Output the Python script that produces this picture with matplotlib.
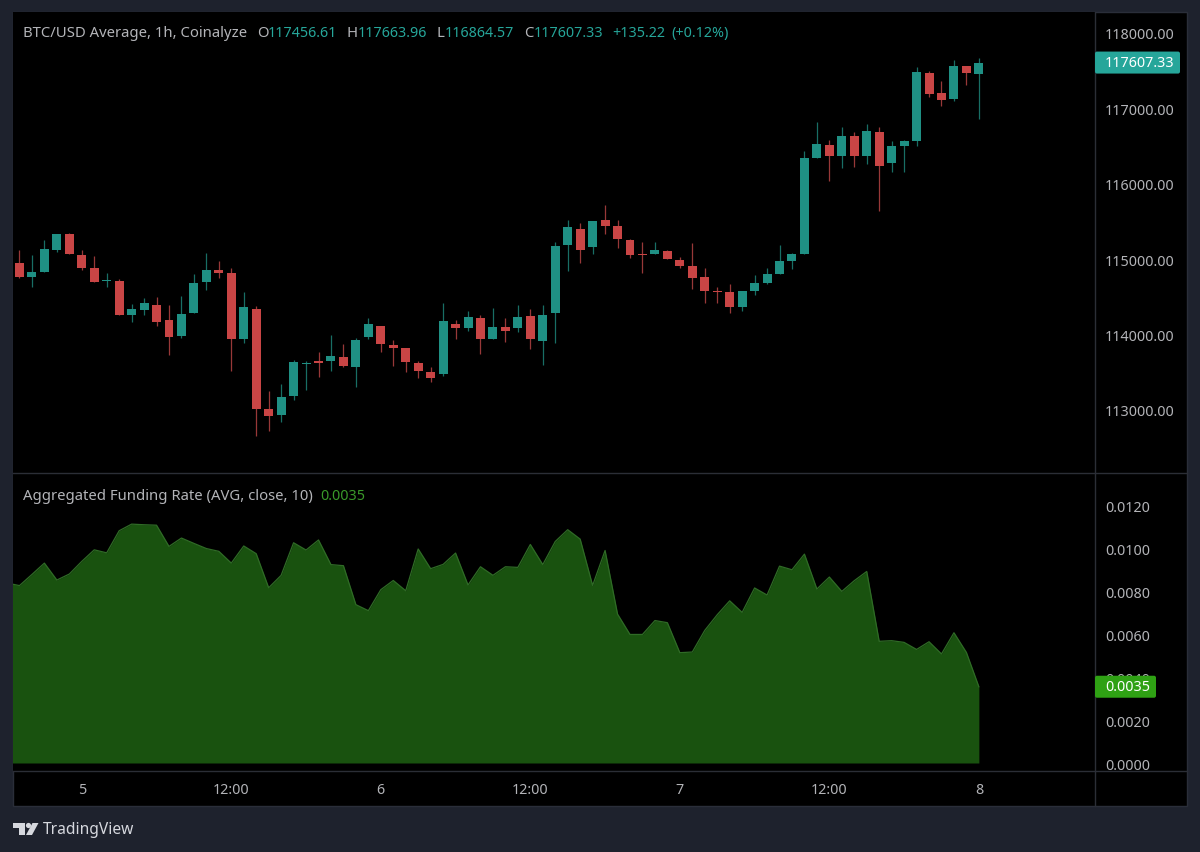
import matplotlib
matplotlib.use("Agg")
import matplotlib.pyplot as plt
import numpy as np
from matplotlib.patches import FancyBboxPatch, Rectangle, Polygon, Circle

# Hourly candles
opens = [114949, 114764, 114830, 115126, 115334, 115060, 114887, 114715, 114715, 114264,
         114331, 114397, 114189, 113981, 114291, 114702, 114852, 114817, 113937, 114344,
         113018, 112934, 113190, 113610, 113650, 113645, 113707, 113566, 113964, 114110,
         113862, 113818, 113624, 113509, 113482, 114145, 114092, 114225, 113942, 114097,
         114083, 114243, 113920, 114291, 115184, 115405, 115166, 115516, 115436, 115259,
         115065, 115074, 115104, 114994, 114914, 114769, 114574, 114561, 114366, 114583,
         114685, 114808, 114976, 115074, 116346, 116510, 116373, 116629, 116373, 116682,
         116271, 116501, 116572, 117469, 117204, 117124, 117558, 117456.61]
highs = [115126, 115055, 115259, 115334, 115347, 115122, 115047, 114817, 114737, 114410,
         114490, 114499, 114397, 114512, 114799, 115082, 114976, 114883, 114569, 114375,
         113248, 113345, 113659, 113645, 113774, 113995, 113871, 113950, 114216, 114118,
         113928, 113818, 113650, 113571, 114419, 114198, 114309, 114260, 114353, 114220,
         114397, 114340, 114388, 115224, 115524, 115480, 115511, 115719, 115524, 115268,
         115224, 115224, 115127, 115025, 115211, 114879, 114627, 114667, 114578, 114791,
         114888, 115193, 115082, 116435, 116824, 116585, 116753, 116682, 116797, 116749,
         116567, 116581, 117544, 117500, 117359, 117642, 117558, 117663.96]
lows = [114746, 114636, 114830, 115100, 115073, 114852, 114702, 114636, 114255, 114171,
        114255, 114110, 113734, 113950, 114291, 114591, 114755, 113522, 113889, 112660,
        112722, 112845, 113128, 113270, 113438, 113522, 113575, 113305, 113937, 113765,
        113588, 113509, 113420, 113376, 113456, 113946, 114044, 113748, 113942, 113907,
        114039, 113814, 113593, 113885, 114848, 114954, 115074, 115330, 115144, 115016,
        114817, 115065, 115000, 114883, 114609, 114424, 114419, 114282, 114318, 114530,
        114676, 114808, 114870, 115074, 116346, 116041, 116205, 116218, 116258, 115639,
        116152, 116152, 116497, 117155, 117036, 117098, 117314, 116864.57]
closes = [114764, 114834, 115131, 115334, 115073, 114883, 114702, 114724, 114255, 114339,
          114415, 114171, 113973, 114278, 114689, 114852, 114821, 113937, 114370, 113009,
          112916, 113168, 113637, 113623, 113628, 113716, 113588, 113924, 114136, 113875,
          113827, 113637, 113518, 113425, 114181, 114083, 114229, 113938, 114097, 114052,
          114229, 113938, 114260, 115180, 115423, 115118, 115507, 115436, 115264, 115056,
          115051, 115118, 115003, 114910, 114755, 114574, 114561, 114362, 114578, 114680,
          114804, 114976, 115069, 116346, 116532, 116364, 116629, 116364, 116700, 116240,
          116497, 116567, 117478, 117191, 117107, 117566, 117474, 117607.33]

# Funding rate, first point sits one hour before the first candle (clipped by the pane)
funding = [0.00840, 0.00828, 0.00880, 0.00933, 0.00854, 0.00882, 0.00941, 0.00995, 0.00981, 0.01084,
           0.01115, 0.01112, 0.01110, 0.01011, 0.01050, 0.01025, 0.01001, 0.00988, 0.00933, 0.01013,
           0.00977, 0.00818, 0.00876, 0.01028, 0.00994, 0.01041, 0.00926, 0.00921, 0.00739, 0.00711,
           0.00809, 0.00852, 0.00804, 0.00999, 0.00907, 0.00927, 0.00980, 0.00831, 0.00916, 0.00876,
           0.00916, 0.00913, 0.01020, 0.00926, 0.01034, 0.01089, 0.01045, 0.00829, 0.00992, 0.00695,
           0.00600, 0.00600, 0.00665, 0.00655, 0.00515, 0.00518, 0.00619, 0.00692, 0.00757, 0.00703,
           0.00817, 0.00784, 0.00919, 0.00902, 0.00975, 0.00812, 0.00868, 0.00801, 0.00851, 0.00894,
           0.00568, 0.00571, 0.00563, 0.00530, 0.00566, 0.00509, 0.00608, 0.00516, 0.00356]

time_labels = ["5", "12:00", "6", "12:00", "7", "12:00", "8"]
time_hours = [5, 17, 29, 41, 53, 65, 77]
price_ticks = [113000, 114000, 115000, 116000, 117000, 118000]
funding_ticks = [0.0, 0.002, 0.004, 0.006, 0.008, 0.010, 0.012]
last_funding_label = "0.0035"

W, H = 1200, 853
BG = "#1e222d"
LINE = "#2b2e36"
TEXT = "#b3b4b8"
TEAL = "#1f9084"
TEAL_TEXT = "#26a69a"
RED = "#c94545"
FONT = "Noto Sans"
FS = 10.3
FS_LABEL = 10.7

plt.rcParams["font.family"] = [FONT, "DejaVu Sans"]


def pane(left, top, right, bottom):
    return [left / W, 1 - bottom / H, (right - left) / W, (bottom - top) / H]


fig = plt.figure(figsize=(W / 100, H / 100), dpi=100, facecolor=BG)
fig.add_artist(Rectangle((13 / W, 1 - 807 / H), 1174 / W, 794 / H, transform=fig.transFigure,
                         facecolor="black", edgecolor="#2a2e39", linewidth=1, zorder=-1))

ax = fig.add_axes(pane(13, 13, 1095, 474), facecolor="black")
ax2 = fig.add_axes(pane(13, 474, 1095, 772), facecolor="black", sharex=ax)

# Candles
hours = np.arange(len(closes))
opens, highs, lows, closes = map(np.array, (opens, highs, lows, closes))
up = closes >= opens
colors = np.where(up, TEAL, RED)
wick_colors = np.where(up, "#186e65", "#983838")
ax.vlines(hours, lows, highs, colors=wick_colors, linewidth=0.9, zorder=2)
ax.bar(hours, np.abs(closes - opens), bottom=np.minimum(opens, closes), width=0.72,
       color=colors, linewidth=0, zorder=3)

ax.set_xlim(-0.52, 86.32)
ax.set_ylim(112164, 118278)
ax.set_yticks(price_ticks)
ax.set_yticklabels([f"{p:.2f}" for p in price_ticks])

# Funding area
funding_hours = np.arange(-1, len(closes))
ax2.fill_between(funding_hours, 0, funding, color="#19520f", linewidth=0, zorder=2)
ax2.plot(funding_hours, funding, color="#2f6b26", linewidth=0.9, zorder=3)
ax2.set_ylim(-0.000373, 0.013536)
ax2.set_yticks(funding_ticks)
ax2.set_yticklabels([f"{v:.4f}" for v in funding_ticks])
ax2.set_xticks(time_hours)
ax2.set_xticklabels(time_labels)
for label, text in zip(ax2.get_xticklabels(), time_labels):
    if ":" not in text:
        label.set_fontweight("bold")

for a in (ax, ax2):
    for s in a.spines.values():
        s.set_visible(False)
    a.yaxis.tick_right()
    a.tick_params(axis="y", length=0, pad=7.2, colors=TEXT, labelsize=FS)
    a.tick_params(axis="x", length=0, pad=8, colors=TEXT, labelsize=FS)
ax.tick_params(axis="x", labelbottom=False)

# Overlay in pixel coordinates for separators, legends, badges and the logo
top = fig.add_axes([0, 0, 1, 1], facecolor="none", zorder=5)
top.set_xlim(0, W)
top.set_ylim(H, 0)
top.axis("off")

top.plot([13, 1187], [474, 474], color=LINE, linewidth=1)
top.plot([13, 1187], [772, 772], color=LINE, linewidth=1)
top.plot([1095, 1095], [13, 807], color=LINE, linewidth=1)

header = [
    (23, "BTC/USD Average, 1h, Coinalyze", TEXT),
    (257, "O", TEXT), (268, "117456.61", TEAL_TEXT),
    (347, "H", TEXT), (358, "117663.96", TEAL_TEXT),
    (437, "L", TEXT), (445, "116864.57", TEAL_TEXT),
    (524, "C", TEXT), (534, "117607.33", TEAL_TEXT),
    (612, "+135.22", TEAL_TEXT), (671, "(+0.12%)", TEAL_TEXT),
]
for x, s, c in header:
    top.text(x, 33.5, s, color=c, fontsize=FS_LABEL if c == TEXT else FS, va="center", ha="left")

top.text(23, 496, "Aggregated Funding Rate (AVG, close, 10)", color=TEXT, fontsize=FS_LABEL, va="center", ha="left")
top.text(320, 496, last_funding_label, color="#3a9a2a", fontsize=FS, va="center", ha="left")


def badge(source_ax, value, text, right, color):
    y = H - source_ax.transData.transform((0, value))[1]
    top.add_patch(FancyBboxPatch((1096, y - 10), right - 1098, 20, boxstyle="round,pad=1,rounding_size=2",
                                 facecolor=color, edgecolor="none", zorder=6))
    top.text(1105, y, text, color="white", fontsize=FS, va="center", ha="left", zorder=7)


badge(ax, closes[-1], f"{closes[-1]:.2f}", 1181, "#26a69a")
badge(ax2, funding[-1], last_funding_label, 1157, "#2fa114")

# TradingView logo
logo = "#d6d8de"
top.add_patch(Polygon([(13, 824), (24.5, 824), (24.5, 836), (18.5, 836), (18.5, 829), (13, 829)], facecolor=logo, edgecolor="none"))
top.add_patch(Circle((28.5, 826.5), 2.6, facecolor=logo, edgecolor="none"))
top.add_patch(Polygon([(32.5, 824), (38.5, 824), (32, 836), (26, 836)], facecolor=logo, edgecolor="none"))
top.text(43, 830.5, "TradingView", color=logo, fontsize=11.2, va="center", ha="left")

fig.savefig("out.png", dpi=100, facecolor=BG)
